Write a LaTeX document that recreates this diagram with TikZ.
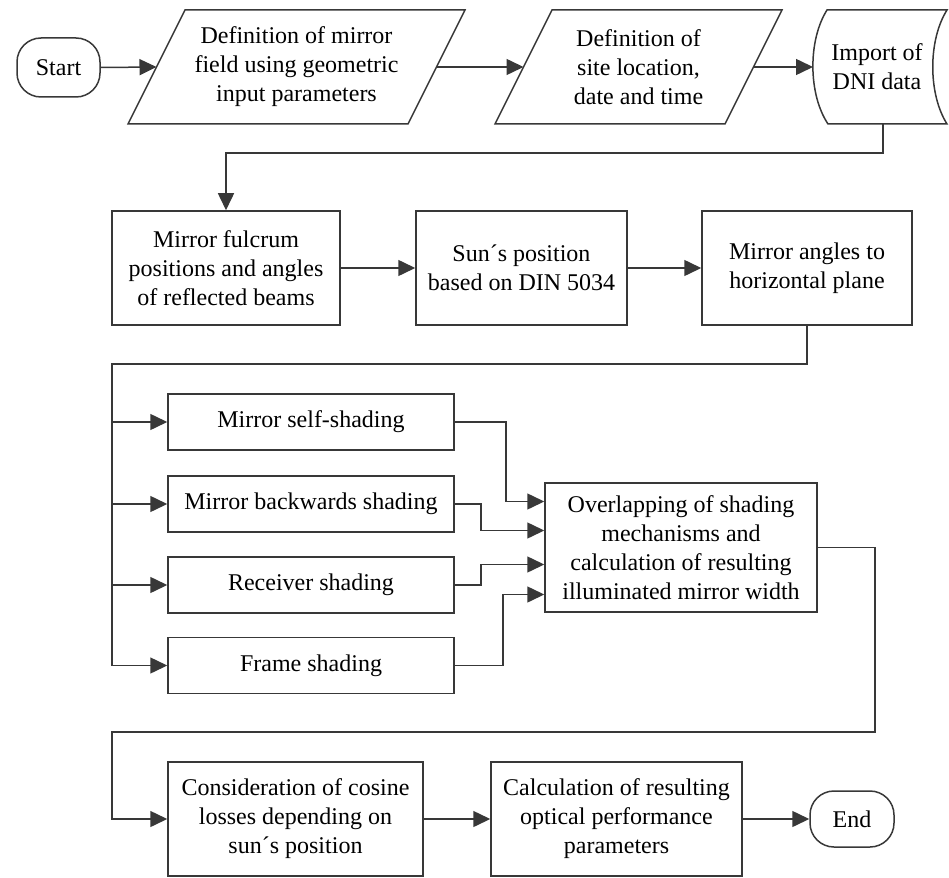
\documentclass[tikz,border=0pt]{standalone}
\usepackage{fontspec}
\setmainfont{Liberation Serif}
\usetikzlibrary{arrows.meta,calc}
\definecolor{ln}{HTML}{383838}
\tikzset{
  every node/.style={font=\fontsize{24}{29}\selectfont, align=center, text=black},
  box/.style={draw=ln, line width=1.5pt, inner sep=0pt},
  term/.style={box, rounded corners=24pt},
  arr/.style={draw=ln, line width=1.5pt, -{Triangle[length=17pt,width=16pt]}},
  ln/.style={draw=ln, line width=1.5pt}
}
\begin{document}
\begin{tikzpicture}[x=1pt,y=-1pt]
\useasboundingbox (0,0) rectangle (949,877);
% Top row
\node[term, minimum width=83pt, minimum height=59pt] (start) at (58.5,67.5) {Start};
\draw[ln] (185,10) -- (465,10) -- (408,124) -- (128,124) -- cycle;
\node (p1) at (296.5,67) {Definition of mirror\\field using geometric\\input parameters};
\coordinate (p1w) at (156.5,67);
\coordinate (p1e) at (436.5,67);
\draw[ln] (552,10) -- (782,10) -- (725,124) -- (495,124) -- cycle;
\node (p2) at (638.5,67) {Definition of\\site location,\\date and time};
\coordinate (p2w) at (523.5,67);
\coordinate (p2e) at (753.5,67);
\draw[ln] (827,10) .. controls (808,40) and (808,94) .. (828,124) -- (947,124)
  .. controls (928,94) and (928,40) .. (947,10) -- cycle;
\node (dni) at (877,67) {Import of\\DNI data};
\coordinate (dniw) at (813,67);
\coordinate (dnis) at (883,124);
% Second row
\node[box, minimum width=228pt, minimum height=114pt] (fulc) at (226,268) {Mirror fulcrum\\positions and angles\\of reflected beams};
\node[box, minimum width=211pt, minimum height=114pt] (sun) at (521.5,268) {Sun´s position\\based on DIN 5034};
\node[box, minimum width=210pt, minimum height=114pt] (ang) at (807,268) {Mirror angles to\\horizontal plane};
% Shading
\node[box, minimum width=286pt, minimum height=56pt] (self) at (311,422) {Mirror self-shading};
\node[box, minimum width=286pt, minimum height=56pt] (back) at (311,504) {Mirror backwards shading};
\node[box, minimum width=286pt, minimum height=56pt] (recv) at (311,585) {Receiver shading};
\node[box, minimum width=286pt, minimum height=56pt] (frame) at (311,665.5) {Frame shading};
\node[box, minimum width=272pt, minimum height=129pt] (ovl) at (681,547.5) {Overlapping of shading\\mechanisms and\\calculation of resulting\\illuminated mirror width};
% Bottom row
\node[box, minimum width=255pt, minimum height=114pt] (cons) at (295.5,819) {Consideration of cosine\\losses depending on\\sun´s position};
\node[box, minimum width=251pt, minimum height=114pt] (calc) at (616.5,819) {Calculation of resulting\\optical performance\\parameters};
\node[term, minimum width=84pt, minimum height=56pt] (endn) at (852,819) {End};
\coordinate (bus) at (112,364);
\coordinate (ret) at (112,732);
% Connectors
\draw[arr] (start.east) -- (p1w);
\draw[arr] (p1e) -- (p2w);
\draw[arr] (p2e) -- (dniw);
\draw[arr] (dnis) -- ++(0,29) -| (fulc.north);
\draw[arr] (fulc) -- (sun);
\draw[arr] (sun) -- (ang);
\draw[ln] (ang.south) |- (bus) -- (bus |- frame.west);
\draw[arr] (bus |- self.west) -- (self.west);
\draw[arr] (bus |- back.west) -- (back.west);
\draw[arr] (bus |- recv.west) -- (recv.west);
\draw[arr] (bus |- frame.west) -- (frame.west);
\draw[arr] (self.east) -- ++(51,0) |- ([yshift=46pt]ovl.west);
\draw[arr] (back.east) -- ++(26,0) |- ([yshift=17pt]ovl.west);
\draw[arr] (recv.east) -- ++(26,0) |- ([yshift=-17pt]ovl.west);
\draw[arr] (frame.east) -- ++(48,0) |- ([yshift=-47pt]ovl.west);
\draw[arr] (ovl.east) -- ++(57,0) |- (ret) |- (cons.west);
\draw[arr] (cons) -- (calc);
\draw[arr] (calc) -- (endn);
\end{tikzpicture}
\end{document}
